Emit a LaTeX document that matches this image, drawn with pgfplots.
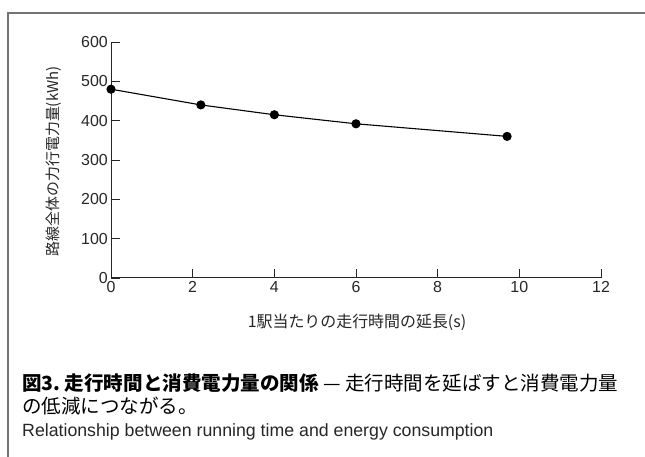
\documentclass[border=0pt]{standalone}
\usepackage{pgfplots}
\pgfplotsset{compat=1.18}
\usepackage{fontspec}
\setmainfont{Liberation Sans}
\newfontfamily\jp{Noto Sans CJK JP}
\begin{document}
\begin{tikzpicture}[x=1bp,y=1bp]
\path[use as bounding box] (0,0) rectangle (645,457);
\draw[black!55, line width=1.4bp] (8,0) -- (8,444) -- (645,444);
\begin{axis}[
  at={(111bp,179bp)}, anchor=south west,
  scale only axis, width=490bp, height=236bp,
  xmin=0, xmax=12, ymin=0, ymax=600,
  axis lines=left,
  axis line style={-, line width=1bp, black!85},
  xtick={0,2,...,12}, ytick={0,100,...,600},
  tick align=inside, major tick length=9bp,
  tick style={black!85, line width=0.9bp},
  xticklabel style={font=\fontsize{16}{18}\selectfont, text=black!85, inner sep=3.5bp},
  yticklabel style={font=\fontsize{16}{18}\selectfont, text=black!85, inner sep=3bp},
  /pgf/number format/assume math mode=true,
  clip=false,
]
\addplot[black, line width=1.1bp, mark=*, mark size=4bp] coordinates {
  (0,480) (2.2,440) (4,415) (6,392) (9.7,360)
};
\end{axis}
\node[rotate=90, font=\jp\fontsize{15}{17}\selectfont, text=black!85] at (54,295.5) {路線全体の力行電力量(kWh)};
\node[font=\jp\fontsize{16}{18}\selectfont, text=black!85] at (357,135) {1駅当たりの走行時間の延長(s)};
\node[anchor=west, inner sep=0pt, font=\jp\fontsize{19.6}{22}\selectfont] at (22,74) {{\bfseries 図3.\ 走行時間と消費電力量の関係}\ — 走行時間を延ばすと消費電力量};
\node[anchor=west, inner sep=0pt, font=\jp\fontsize{19.6}{22}\selectfont] at (22,51) {の低減につながる。};
\node[anchor=west, inner sep=0pt, font=\fontsize{17.8}{20}\selectfont, text=black!85] at (22,25) {Relationship between running time and energy consumption};
\end{tikzpicture}
\end{document}
